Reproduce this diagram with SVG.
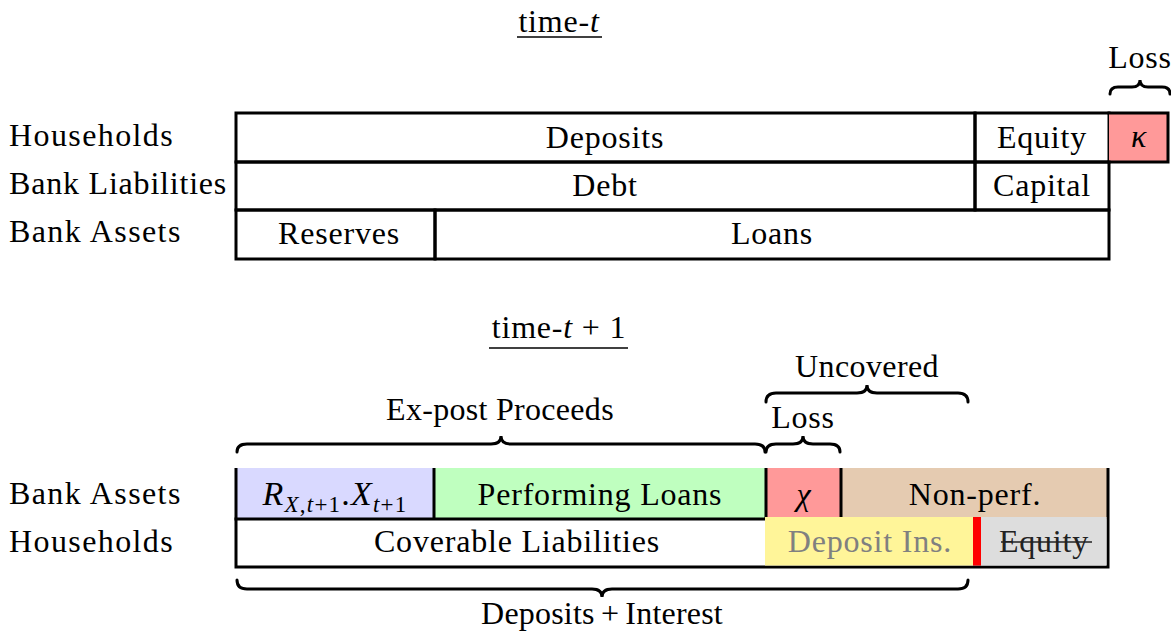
<svg xmlns="http://www.w3.org/2000/svg" width="1171" height="635" viewBox="0 0 1171 635">
<style>
text{font-family:"Liberation Serif","Times New Roman",serif;font-size:32px;fill:#000;letter-spacing:0.8px}
.c{text-anchor:middle}
.i{font-style:italic}
.lbl{letter-spacing:1.4px}
.ln{stroke:#000;stroke-width:3;fill:none;stroke-linecap:square}
.br{stroke:#000;stroke-width:3;fill:none;stroke-linecap:round}
.sub{font-size:23px}
</style>
<rect width="1171" height="635" fill="#fff"/>
<!-- Top section -->
<g id="title-t">
<text x="559" y="32" class="c">time-<tspan class="i">t</tspan></text>
<line x1="517" y1="37" x2="602" y2="37" stroke="#000" stroke-width="1.6"/>
</g>
<g id="row-labels-top">
<text x="9" y="146" class="lbl">Households</text>
<text x="9" y="194">Bank Liabilities</text>
<text x="9" y="242" class="lbl">Bank Assets</text>
</g>
<g id="deposits"><rect x="236" y="113" width="739" height="49" fill="#fff" class="ln"/><text x="605" y="148" class="c">Deposits</text></g>
<g id="equity"><rect x="975" y="113" width="134" height="49" fill="#fff" class="ln"/><text x="1042" y="148" class="c">Equity</text></g>
<g id="kappa">
<rect x="1109" y="113" width="59" height="49" fill="#ff9999"/>
<path d="M1109 113 H1168 V162 H1109" class="ln"/>
<text x="1139" y="147" class="c i">κ</text>
</g>
<g id="debt"><rect x="236" y="162" width="739" height="48" fill="#fff" class="ln"/><text x="605" y="196" class="c">Debt</text></g>
<g id="capital"><rect x="975" y="162" width="134" height="48" fill="#fff" class="ln"/><text x="1042" y="196" class="c">Capital</text></g>
<g id="reserves"><rect x="236" y="210" width="199" height="49" fill="#fff" class="ln"/><text x="339" y="244" class="c">Reserves</text></g>
<g id="loans"><rect x="435" y="210" width="674" height="49" fill="#fff" class="ln"/><text x="772" y="244" class="c">Loans</text></g>
<g id="loss-top">
<text x="1140" y="68" class="c">Loss</text>
</g>
<!-- Bottom section -->
<g id="title-t1">
<text x="559" y="338" class="c">time-<tspan class="i">t</tspan> + 1</text>
<line x1="489" y1="348" x2="628" y2="348" stroke="#000" stroke-width="1.6"/>
</g>
<g id="row-labels-bottom">
<text x="9" y="504" class="lbl">Bank Assets</text>
<text x="9" y="552" class="lbl">Households</text>
</g>
<g id="rx">
<rect x="236" y="468" width="198" height="51" fill="#d9d9ff"/>
<text x="335" y="505" class="c" style="letter-spacing:1.2px;font-size:34px"><tspan class="i">R</tspan><tspan class="sub i" dy="7">X</tspan><tspan class="sub">,</tspan><tspan class="sub i">t</tspan><tspan class="sub">+1</tspan><tspan dy="-7">.</tspan><tspan class="i">X</tspan><tspan class="sub i" dy="7">t</tspan><tspan class="sub">+1</tspan></text>
</g>
<g id="performing">
<rect x="434" y="468" width="332" height="51" fill="#bfffbf"/>
<text x="600" y="505" class="c">Performing Loans</text>
</g>
<g id="chi">
<rect x="766" y="468" width="75" height="51" fill="#ff9999"/>
<text x="804" y="505" class="c i">χ</text>
</g>
<g id="nonperf">
<rect x="841" y="468" width="267" height="51" fill="#e5cbb1"/>
<text x="975" y="505" class="c">Non-perf.</text>
</g>
<g id="coverable">
<text x="517" y="552" class="c">Coverable Liabilities</text>
</g>
<g id="lines-bottom">
<path d="M236 468 V567 H1108 V468" class="ln" style="stroke-linecap:butt"/>
<path d="M236 519 H766" class="ln"/>
<path d="M434 468 V519 M766 468 V519 M841 468 V519" class="ln" style="stroke-linecap:butt"/>
</g>
<g id="deposit-ins">
<rect x="765" y="517" width="208" height="48.5" fill="#fff599"/>
<text x="870" y="552" class="c" style="fill:#808080">Deposit Ins.</text>
</g>
<g id="red-bar"><rect x="973" y="517" width="8" height="48.5" fill="#ff0000"/></g>
<g id="equity-struck">
<rect x="981" y="517" width="125.5" height="48.5" fill="#dddddd"/>
<text x="1044" y="552" class="c" style="fill:#222">Equity</text>
<line x1="1001" y1="542" x2="1092" y2="542" stroke="#222" stroke-width="1.6"/>
</g>
<g id="labels-braces">
<text x="500" y="420" class="c" style="letter-spacing:0.3px">Ex-post Proceeds</text>
<text x="803" y="428" class="c">Loss</text>
<text x="867" y="377" class="c" style="letter-spacing:0.4px">Uncovered</text>
<text x="602" y="624" class="c" style="letter-spacing:0.2px;word-spacing:-2px">Deposits + Interest</text>
</g>
<g id="connectors">
<path class="br" d="M1110 94 Q1110 87 1118 87 H1132 Q1140 87 1140 80 Q1140 87 1148 87 H1162 Q1170 87 1170 94"/>
<path class="br" d="M237 452 Q237 444 247 444 H491 Q501 444 501 436 Q501 444 511 444 H755 Q765 444 765 452"/>
<path class="br" d="M766 452 Q766 444 776 444 H793 Q803 444 803 436 Q803 444 813 444 H830 Q840 444 840 452"/>
<path class="br" d="M766 402 Q766 393 776 393 H857 Q867 393 867 385 Q867 393 877 393 H958 Q968 393 968 402"/>
<path class="br" d="M237 580 Q237 589 247 589 H592 Q602 589 602 597 Q602 589 612 589 H958 Q968 589 968 580"/>
</g>
</svg>
